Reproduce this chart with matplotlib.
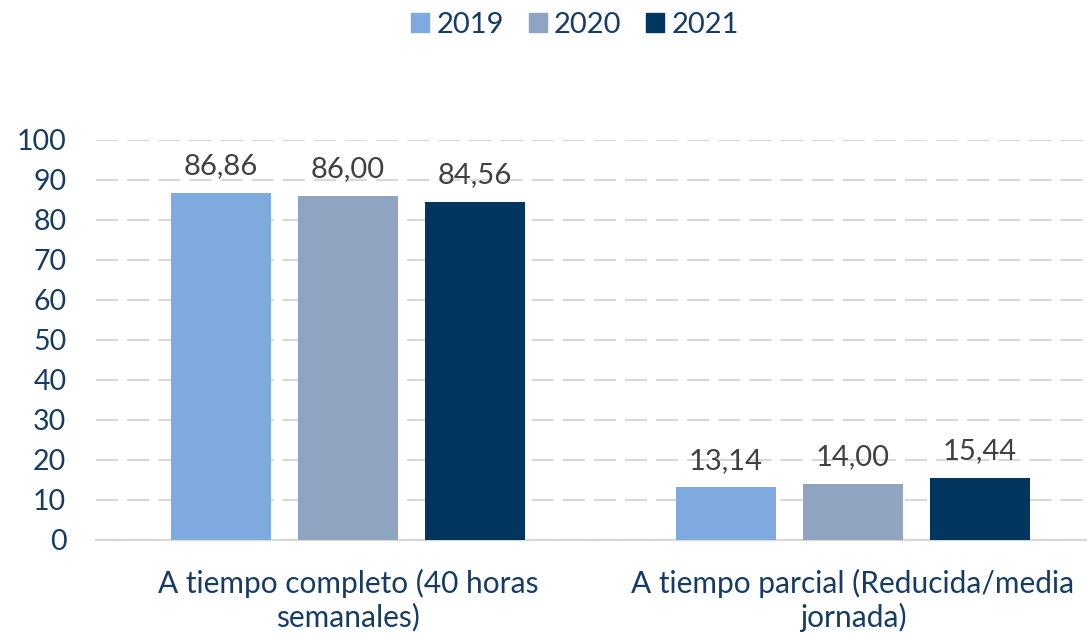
import numpy as np
import matplotlib
matplotlib.use("Agg")
import matplotlib.pyplot as plt
from matplotlib.patches import Patch

plt.rcParams["font.family"] = ["Lato", "DejaVu Sans"]

# datos: distribución por tipo de jornada (%)
categorias = ["A tiempo completo (40 horas\nsemanales)",
              "A tiempo parcial (Reducida/media\njornada)"]
anios = ["2019", "2020", "2021"]
valores_2019 = [86.86, 13.14]
valores_2020 = [86.00, 14.00]
valores_2021 = [84.56, 15.44]
series = [valores_2019, valores_2020, valores_2021]

colores = ["#7FAADF", "#8EA4C1", "#02365F"]
AZUL_TXT = "#173C63"
GRIS_TXT = "#404040"

W, H = 1087, 633
fig = plt.figure(figsize=(W / 100, H / 100), dpi=100)
# el eje se sale un poco por la derecha, como en el original
x0, x1 = 95.5, 95.5 + 1010
ytop, ybot = 140, 540
ax = fig.add_axes([x0 / W, 1 - ybot / H, (x1 - x0) / W, (ybot - ytop) / H])

x = np.arange(len(categorias))
ancho = 0.198
paso = 0.2515
for i, (vals, col) in enumerate(zip(series, colores)):
    pos = x + (i - 1) * paso
    bars = ax.bar(pos, vals, ancho, color=col, zorder=3)
    for b, v in zip(bars, vals):
        ax.annotate(f"{v:.2f}".replace(".", ","),
                    (b.get_x() + b.get_width() / 2, v),
                    xytext=(0, 10), textcoords="offset points",
                    ha="center", va="bottom", fontsize=21, color=GRIS_TXT)

ax.set_xlim(-0.5, 1.5)
ax.set_ylim(0, 100)
ax.set_yticks(range(0, 101, 10))
ax.yaxis.grid(True, color="#D9D9D9", linewidth=1.6, linestyle=(0, (10, 4)), zorder=0)
ax.set_axisbelow(True)
for s in ["top", "right", "left"]:
    ax.spines[s].set_visible(False)
ax.spines["bottom"].set_color("#D9D9D9")
ax.spines["bottom"].set_linewidth(1.6)
ax.tick_params(axis="both", length=0, labelsize=20.5, labelcolor=AZUL_TXT)
ax.tick_params(axis="y", pad=21)
ax.set_xticks(x)
ax.set_xticklabels(categorias, linespacing=1.2, fontsize=21.5)
ax.tick_params(axis="x", pad=21)

handles = [Patch(color=c) for c in colores]
fig.legend(handles, anios, loc="center", bbox_to_anchor=(575 / W, 1 - 25 / H),
           ncol=3, frameon=False, fontsize=21, handlelength=0.62, handleheight=0.62,
           handletextpad=0.25, columnspacing=0.85, labelcolor=AZUL_TXT)

fig.savefig("out.png", dpi=100)
